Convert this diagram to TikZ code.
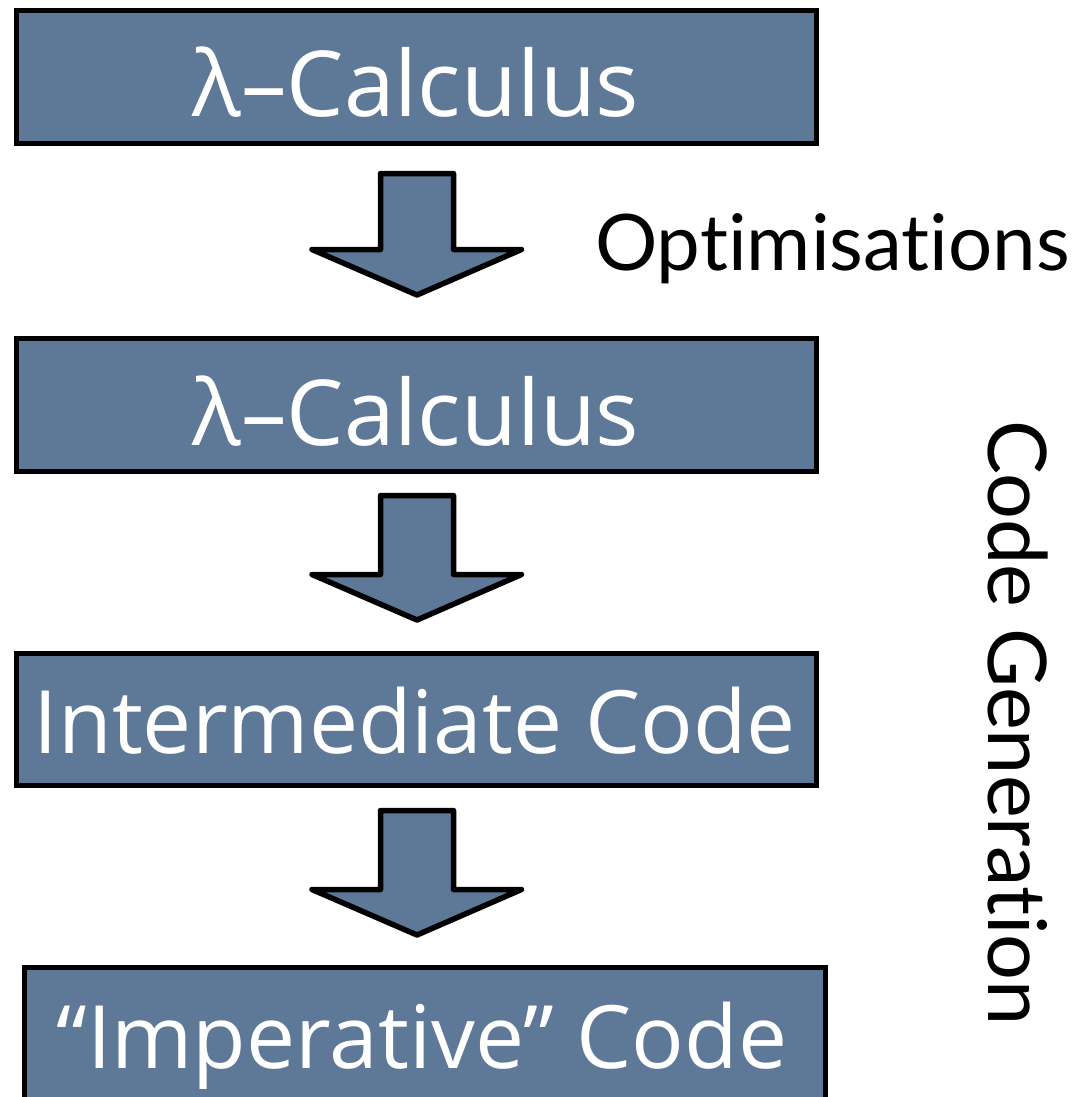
\documentclass[tikz,border=0pt]{standalone}
\usepackage{fontspec}
\newfontfamily\boxfont{Open Sans}
\newfontfamily\labelfont[Ligatures=NoCommon]{Lato}
\definecolor{boxblue}{RGB}{94,121,151}
\begin{document}
\begin{tikzpicture}[x=1pt,y=-1pt,
  stagebox/.style={draw=black,line width=5.5pt,fill=boxblue},
  blockarrow/.style={draw=black,line width=5.5pt,fill=boxblue,line join=round},
  boxtext/.style={text=white,anchor=base,inner sep=0pt,font=\boxfont\fontsize{87.5}{90}\selectfont},
  lamtext/.style={boxtext,font=\boxfont\fontsize{91}{94}\selectfont},
  sidelabel/.style={text=black,inner sep=0pt,anchor=base west,font=\labelfont\fontsize{78}{82}\selectfont}]
\useasboundingbox (0,0) rectangle (1080,1097);
\clip (0,0) rectangle (1080,1097);
% boxes
\draw[stagebox] (16.5,10.5) rectangle (816.5,143.5);
\draw[stagebox] (16.5,338.5) rectangle (816.5,471.5);
\draw[stagebox] (16.5,653.5) rectangle (816.5,785.5);
\draw[stagebox] (24.5,967.5) rectangle (825.5,1110);
% texts
\node[lamtext] (t1) at (416,117) {λ–Calculus};
\node[lamtext] (t2) at (416,445) {λ–Calculus};
\node[boxtext] (t3) at (415,753) {Intermediate Code};
\node[boxtext] (t4) at (422,1068) {“Imperative” Code};
% block arrows
\draw[blockarrow] (380.5,173.5) -- (453.5,173.5) -- (453.5,249.5) -- (521.5,249.5) -- (417,295) -- (312,249.5) -- (380.5,249.5) -- cycle;
\draw[blockarrow] (380.5,495.5) -- (453.5,495.5) -- (453.5,574.5) -- (521.5,574.5) -- (417,620) -- (312,574.5) -- (380.5,574.5) -- cycle;
\draw[blockarrow] (380.5,810.5) -- (453.5,810.5) -- (453.5,889.5) -- (521.5,889.5) -- (417,935) -- (312,889.5) -- (380.5,889.5) -- cycle;
% labels
\node[sidelabel] (opt) at (595,270) {Optimisations};
\node[sidelabel,rotate=-90,font=\labelfont\fontsize{81}{85}\selectfont] (gen) at (988,420) {Code Generation};
\end{tikzpicture}
\end{document}
